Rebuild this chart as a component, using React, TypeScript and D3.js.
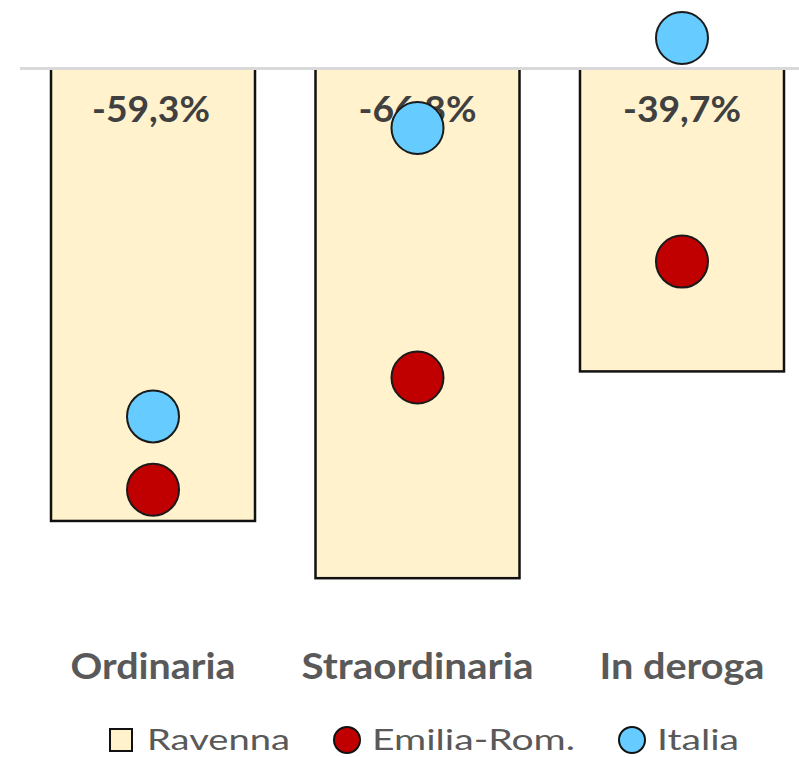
import React from "react";
import * as d3 from "d3";

const categories = ["Ordinaria", "Straordinaria", "In deroga"];
const ravenna = [-59.3, -66.8, -39.7];
const emiliaRom = [-55.2, -40.5, -25.3];
const italia = [-45.6, -7.8, 4.0];
const legendLabels = ["Ravenna", "Emilia-Rom.", "Italia"];

const W = 799;
const H = 757;

const COL_BAR = "#FFF2CC";
const COL_ER = "#C00000";
const COL_IT = "#66CCFF";

const locale = d3.formatLocale({
  decimal: ",",
  thousands: ".",
  grouping: [3],
  currency: ["", "€"],
  minus: "-",
});
const fmt = (v: number) => locale.format(".1f")(v) + "%";

// text widths measured on the reference
const catWidths = [165, 232, 165];
const legendWidths = [143, 203, 82];
const legendX = [109, 333, 618];

export default function App() {
  const x = d3
    .scaleBand<string>()
    .domain(categories)
    .range([20.75, 814.25])
    .paddingInner(0.2287)
    .paddingOuter(0.1144);
  const y = d3.scaleLinear().domain([0, -70]).range([68.5, 602.6]);
  const bw = x.bandwidth();
  const r = 26;
  const font = "Lato, 'Open Sans', sans-serif";

  return (
    <svg
      width={W}
      height={H}
      style={{ position: "absolute", left: 0, top: 0, background: "#fff" }}
      fontFamily={font}
    >
      {/* bars */}
      {categories.map((c, i) => (
        <rect
          key={"b" + c}
          x={x(c)!}
          y={y(0)}
          width={bw}
          height={y(ravenna[i]) - y(0)}
          fill={COL_BAR}
          stroke="#111"
          strokeWidth={2.5}
        />
      ))}
      {/* zero line */}
      <line x1={20} x2={W} y1={y(0)} y2={y(0)} stroke="#D9D9D9" strokeWidth={3} />
      {/* data labels */}
      {categories.map((c, i) => (
        <text
          key={"l" + c}
          x={x(c)! + bw / 2 - (i === 0 ? 2 : 0)}
          y={y(0) + 53}
          textAnchor="middle"
          fontSize={36}
          fontWeight={700}
          fill="#404040"
          textLength={118}
          lengthAdjust="spacingAndGlyphs"
        >
          {fmt(ravenna[i])}
        </text>
      ))}
      {/* Emilia-Rom dots */}
      {categories.map((c, i) => (
        <circle
          key={"e" + c}
          cx={x(c)! + bw / 2}
          cy={y(emiliaRom[i])}
          r={r}
          fill={COL_ER}
          stroke="#1a1a1a"
          strokeWidth={2}
        />
      ))}
      {/* Italia dots */}
      {categories.map((c, i) => (
        <circle
          key={"i" + c}
          cx={x(c)! + bw / 2}
          cy={y(italia[i])}
          r={r}
          fill={COL_IT}
          stroke="#1a1a1a"
          strokeWidth={2}
        />
      ))}
      {/* category labels */}
      {categories.map((c, i) => (
        <text
          key={"c" + c}
          x={x(c)! + bw / 2}
          y={679}
          textAnchor="middle"
          fontSize={36}
          fontWeight={700}
          fill="#595959"
          textLength={catWidths[i]}
          lengthAdjust="spacingAndGlyphs"
        >
          {c}
        </text>
      ))}
      {/* legend */}
      <g>
        <rect x={legendX[0] + 1} y={729} width={22} height={22} fill={COL_BAR} stroke="#111" strokeWidth={2} />
        <circle cx={legendX[1] + 14} cy={740} r={13} fill={COL_ER} stroke="#111" strokeWidth={2} />
        <circle cx={legendX[2] + 14} cy={740} r={13} fill={COL_IT} stroke="#111" strokeWidth={2} />
        {legendLabels.map((l, i) => (
          <text
            key={"lg" + l}
            x={legendX[i] + (i === 0 ? 38 : 39)}
            y={750}
            fontSize={29}
            fill="#595959"
            textLength={legendWidths[i]}
            lengthAdjust="spacingAndGlyphs"
          >
            {l}
          </text>
        ))}
      </g>
    </svg>
  );
}
